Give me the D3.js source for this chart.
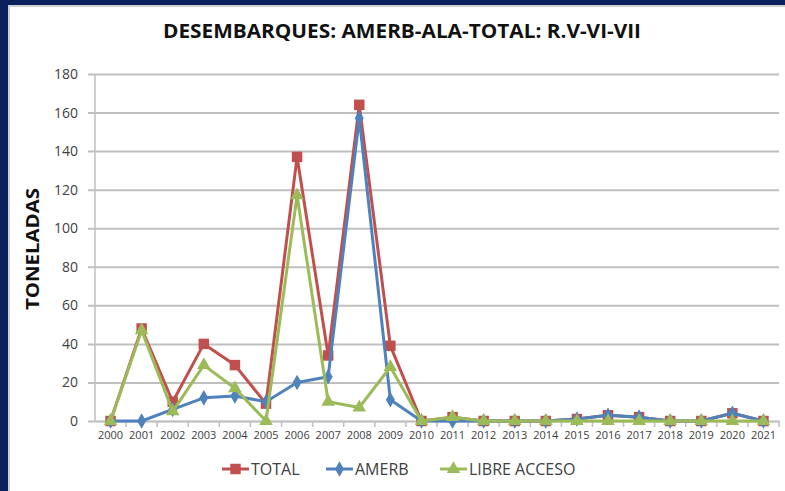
<!DOCTYPE html>
<html>
<head>
<meta charset="utf-8">
<script src="https://cdn.jsdelivr.net/npm/d3@7"></script>
<style>
  body { margin: 0; background: #fff; }
  svg { display: block; font-family: "Open Sans", "Liberation Sans", sans-serif; }
</style>
</head>
<body>
<svg id="chart" width="785" height="491"></svg>
<script>
const years = ['2000','2001','2002','2003','2004','2005','2006','2007','2008','2009','2010',
  '2011','2012','2013','2014','2015','2016','2017','2018','2019','2020','2021'];
const total = [0, 48, 10, 40, 29, 9, 137, 34, 164, 39, 0, 2, 0, 0, 0, 1, 3, 2, 0, 0, 4, 0];
const amerb = [0, 0, 6, 12, 13, 10, 20, 23, 157, 11, 0, 0, 0, 0, 0, 1, 3, 2, 0, 0, 4, 0];
const libre = [0, 47, 5, 29, 17, 0, 117, 10, 7, 28, 0, 2, 0, 0, 0, 0, 0, 0, 0, 0, 0, 0];
const yTicks = [0, 20, 40, 60, 80, 100, 120, 140, 160, 180];

const series = [
  { name: 'TOTAL', values: total, color: '#C0504D', shape: d3.symbolSquare, size: 110 },
  { name: 'AMERB', values: amerb, color: '#4F81BD', shape: d3.symbolDiamond, size: 70 },
  { name: 'LIBRE ACCESO', values: libre, color: '#9BBB59', shape: d3.symbolTriangle, size: 80 }
];

const svg = d3.select('#chart');

// frame
svg.append('rect').attr('x', 0).attr('y', 0).attr('width', 785).attr('height', 5).attr('fill', '#0b215e');
svg.append('rect').attr('x', 0).attr('y', 0).attr('width', 8).attr('height', 491).attr('fill', '#0b215e');
svg.append('rect').attr('x', 8).attr('y', 5).attr('width', 2).attr('height', 486).attr('fill', '#d0d0d0');
svg.append('rect').attr('x', 8).attr('y', 5).attr('width', 777).attr('height', 2).attr('fill', '#d0d0d0');

const plotL = 95, plotR = 779, plotT = 74, plotB = 421;

const x = d3.scaleBand().domain(years).range([plotL, plotR]);
const y = d3.scaleLinear().domain([0, 180]).range([plotB, plotT]);

// title
svg.append('text')
  .attr('x', 402).attr('y', 38)
  .attr('text-anchor', 'middle')
  .attr('font-size', 19).attr('font-weight', 'bold')
  .attr('textLength', 478).attr('lengthAdjust', 'spacingAndGlyphs')
  .attr('fill', '#111')
  .text('DESEMBARQUES: AMERB-ALA-TOTAL: R.V-VI-VII');

// gridlines
const yAxis = d3.axisLeft(y).tickValues(yTicks).tickSize(-(plotR - plotL)).tickPadding(10);
const gy = svg.append('g').attr('transform', `translate(${plotL},0)`).call(yAxis);
gy.select('.domain').remove();
gy.selectAll('.tick line').attr('stroke', '#bfbfbf').attr('stroke-width', 2).attr('x1', -7);
gy.selectAll('.tick text').attr('font-size', 14).attr('fill', '#404040').attr('x', -17)
  .attr('font-family', '"Liberation Sans Narrow", "Open Sans", sans-serif');

// y axis line
svg.append('line').attr('x1', plotL).attr('x2', plotL).attr('y1', plotT).attr('y2', plotB)
  .attr('stroke', '#bfbfbf').attr('stroke-width', 1.5);

// x axis
const xAxis = d3.axisBottom(x).tickSize(0).tickPadding(10);
const gx = svg.append('g').attr('transform', `translate(0,${plotB})`).call(xAxis);
gx.select('.domain').attr('stroke', '#bfbfbf').attr('stroke-width', 1.5);
gx.selectAll('.tick text').attr('font-size', 11).attr('fill', '#404040')
  .attr('font-family', '"Liberation Sans Narrow", "Open Sans", sans-serif');
// category boundary ticks
gx.selectAll('.bound')
  .data(years)
  .enter().append('line')
  .attr('x1', d => x(d) + x.bandwidth())
  .attr('x2', d => x(d) + x.bandwidth())
  .attr('y1', 0).attr('y2', 6)
  .attr('stroke', '#bfbfbf').attr('stroke-width', 1.5);

// y label
svg.append('text')
  .attr('transform', 'translate(39,249) rotate(-90)')
  .attr('text-anchor', 'middle')
  .attr('font-size', 17).attr('font-weight', 'bold')
  .attr('textLength', 122).attr('lengthAdjust', 'spacingAndGlyphs')
  .attr('fill', '#111')
  .text('TONELADAS');

const cx = (d, i) => x(years[i]) + x.bandwidth() / 2;
const line = d3.line().x(cx).y(d => y(d));

// draw series: total first, then amerb, then libre on top
series.forEach(s => {
  const g = svg.append('g');
  g.append('path').datum(s.values)
    .attr('d', line)
    .attr('fill', 'none').attr('stroke', s.color)
    .attr('stroke-width', 3).attr('stroke-linejoin', 'round');
  g.selectAll('path.m').data(s.values).enter().append('path')
    .attr('class', 'm')
    .attr('d', d3.symbol().type(s.shape).size(s.size))
    .attr('transform', (d, i) => `translate(${cx(d, i)},${y(d)})`)
    .attr('fill', s.color);
});

// legend
const legendX = [222, 326, 440];
const lg = svg.append('g').attr('transform', 'translate(0,469)');
series.forEach((s, i) => {
  const gi = lg.append('g').attr('transform', `translate(${legendX[i]},0)`);
  gi.append('line').attr('x1', 0).attr('x2', 27).attr('y1', 0).attr('y2', 0)
    .attr('stroke', s.color).attr('stroke-width', 3);
  gi.append('path').attr('d', d3.symbol().type(s.shape).size(s.size))
    .attr('transform', 'translate(13.5,0)').attr('fill', s.color);
  gi.append('text').attr('x', 29).attr('y', 6)
    .attr('font-size', 16).attr('fill', '#404040')
    .text(s.name);
});
</script>
</body>
</html>
